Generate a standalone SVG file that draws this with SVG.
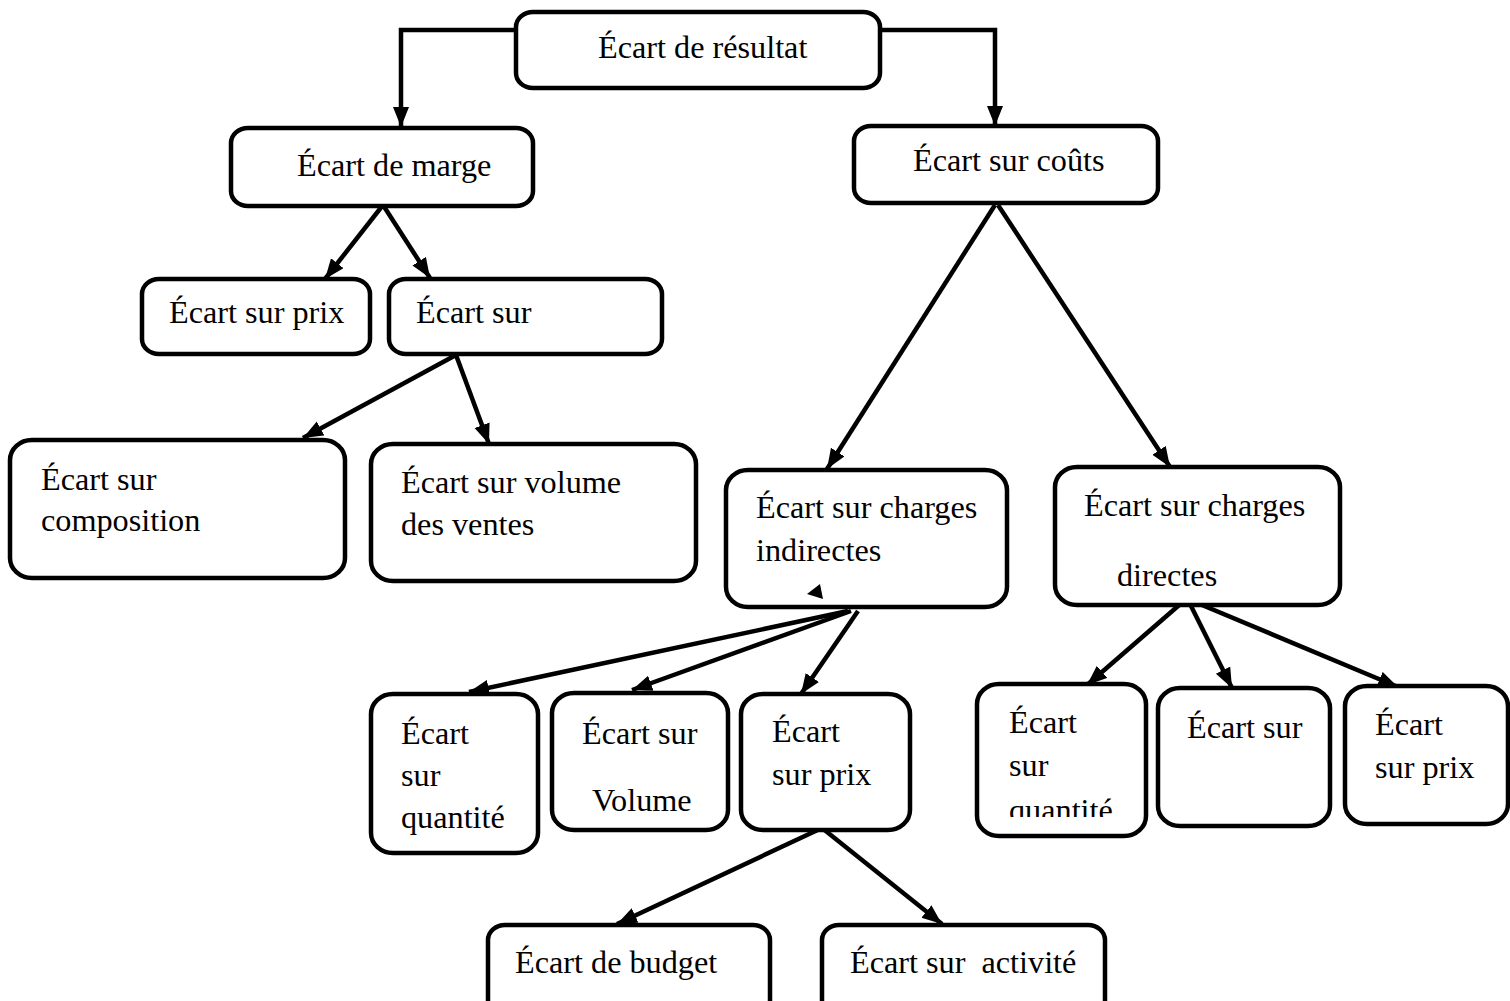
<svg xmlns="http://www.w3.org/2000/svg" width="1510" height="1001" viewBox="0 0 1510 1001">
  <defs>
    <marker id="arrow" markerUnits="userSpaceOnUse" markerWidth="22" markerHeight="18" refX="20" refY="8" orient="auto">
      <path d="M0,0 L20,8 L0,16 z" fill="#000"/>
    </marker>
    <clipPath id="clipQ">
      <rect x="977" y="684" width="169" height="133"/>
    </clipPath>
  </defs>
  <style>
    .box { fill: #fff; stroke: #000; stroke-width: 4.5; }
    .lbl { font-family: "Liberation Serif", "Times New Roman", serif; font-size: 31px; fill: #000; white-space: pre; }
    .edge { fill: none; stroke: #000; stroke-width: 4.5; marker-end: url(#arrow); }
  </style>
  <rect width="1510" height="1001" fill="#fff"/>

  <!-- connectors -->
  <g id="connectors">
    <path class="edge" d="M516,30 H401 V127"/>
    <path class="edge" d="M880,30 H995 V126"/>
    <path class="edge" d="M383,205 L325,279"/>
    <path class="edge" d="M383,205 L430,278"/>
    <path class="edge" d="M456,355 L303,438"/>
    <path class="edge" d="M456,355 L489,444"/>
    <path class="edge" d="M995,205 L827,469"/>
    <path class="edge" d="M998,205 L1170,467"/>
    <path class="edge" d="M848,611 L469,692"/>
    <path class="edge" d="M851,611 L632,690"/>
    <path class="edge" d="M858,611 L801,694"/>
    <path class="edge" d="M822,828 L617,924"/>
    <path class="edge" d="M822,828 L942,924"/>
    <path class="edge" d="M1185,600 L1087,685"/>
    <path class="edge" d="M1188,600 L1232,688"/>
    <path class="edge" d="M1190,600 L1398,687"/>
  </g>

  <g id="n-resultat">
    <rect class="box" x="516" y="12" width="364" height="76" rx="17" ry="15"/>
    <text class="lbl" transform="translate(598 58) scale(1.04 1)">Écart de résultat</text>
  </g>
  <g id="n-marge">
    <rect class="box" x="231" y="128" width="302" height="78" rx="17" ry="15"/>
    <text class="lbl" transform="translate(297 176) scale(1.04 1)">Écart de marge</text>
  </g>
  <g id="n-couts">
    <rect class="box" x="854" y="126" width="304" height="77" rx="17" ry="15"/>
    <text class="lbl" transform="translate(913 171) scale(1.04 1)">Écart sur coûts</text>
  </g>
  <g id="n-prix-marge">
    <rect class="box" x="142" y="279" width="228" height="75" rx="17" ry="15"/>
    <text class="lbl" transform="translate(169 323) scale(1.04 1)">Écart sur prix</text>
  </g>
  <g id="n-sur-marge">
    <rect class="box" x="389" y="279" width="273" height="75" rx="17" ry="15"/>
    <text class="lbl" transform="translate(416 323) scale(1.04 1)">Écart sur</text>
  </g>
  <g id="n-composition">
    <rect class="box" x="10" y="440" width="335" height="138" rx="22" ry="20"/>
    <text class="lbl" transform="translate(41 490) scale(1.04 1)">Écart sur</text>
    <text class="lbl" transform="translate(41 531) scale(1.04 1)">composition</text>
  </g>
  <g id="n-volume-ventes">
    <rect class="box" x="371" y="444" width="325" height="137" rx="22" ry="20"/>
    <text class="lbl" transform="translate(401 493) scale(1.04 1)">Écart sur volume</text>
    <text class="lbl" transform="translate(401 535) scale(1.04 1)">des ventes</text>
  </g>
  <g id="n-indirectes">
    <rect class="box" x="726" y="470" width="281" height="137" rx="22" ry="20"/>
    <text class="lbl" transform="translate(756 518) scale(1.04 1)">Écart sur charges</text>
    <text class="lbl" transform="translate(756 561) scale(1.04 1)">indirectes</text>
    <path d="M820,584 L807,594 L823,599 z" fill="#000"/>
  </g>
  <g id="n-directes">
    <rect class="box" x="1055" y="467" width="285" height="138" rx="22" ry="20"/>
    <text class="lbl" transform="translate(1084 516) scale(1.04 1)">Écart sur charges</text>
    <text class="lbl" transform="translate(1117 586) scale(1.04 1)">directes</text>
  </g>
  <g id="n-quantite-ind">
    <rect class="box" x="371" y="694" width="167" height="159" rx="22" ry="20"/>
    <text class="lbl" transform="translate(401 744) scale(1.04 1)">Écart</text>
    <text class="lbl" transform="translate(401 786) scale(1.04 1)">sur</text>
    <text class="lbl" transform="translate(401 828) scale(1.04 1)">quantité</text>
  </g>
  <g id="n-volume-ind">
    <rect class="box" x="552" y="693" width="176" height="137" rx="22" ry="20"/>
    <text class="lbl" transform="translate(582 744) scale(1.04 1)">Écart sur</text>
    <text class="lbl" transform="translate(592 811) scale(1.04 1)">Volume</text>
  </g>
  <g id="n-prix-ind">
    <rect class="box" x="741" y="694" width="169" height="136" rx="22" ry="20"/>
    <text class="lbl" transform="translate(772 742) scale(1.04 1)">Écart</text>
    <text class="lbl" transform="translate(772 785) scale(1.04 1)">sur prix</text>
  </g>
  <g id="n-budget">
    <rect class="box" x="488" y="925" width="282" height="100" rx="17" ry="15"/>
    <text class="lbl" transform="translate(515 973) scale(1.04 1)">Écart de budget</text>
  </g>
  <g id="n-activite">
    <rect class="box" x="822" y="925" width="283" height="100" rx="17" ry="15"/>
    <text class="lbl" transform="translate(850 973) scale(1.04 1)">Écart sur  activité</text>
  </g>
  <g id="n-quantite-dir">
    <rect class="box" x="977" y="684" width="169" height="152" rx="22" ry="20"/>
    <text class="lbl" transform="translate(1009 733) scale(1.04 1)">Écart</text>
    <text class="lbl" transform="translate(1009 776) scale(1.04 1)">sur</text>
    <g clip-path="url(#clipQ)">
      <text class="lbl" transform="translate(1009 821) scale(1.04 1)">quantité</text>
    </g>
  </g>
  <g id="n-sur-dir">
    <rect class="box" x="1158" y="688" width="172" height="138" rx="22" ry="20"/>
    <text class="lbl" transform="translate(1187 738) scale(1.04 1)">Écart sur</text>
  </g>
  <g id="n-prix-dir">
    <rect class="box" x="1345" y="686" width="163" height="138" rx="22" ry="20"/>
    <text class="lbl" transform="translate(1375 735) scale(1.04 1)">Écart</text>
    <text class="lbl" transform="translate(1375 778) scale(1.04 1)">sur prix</text>
  </g>
</svg>
